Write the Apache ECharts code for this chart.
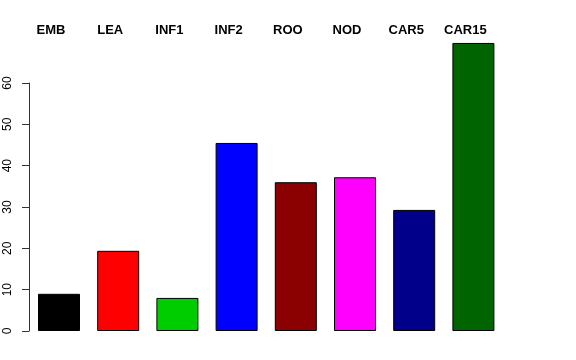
<!DOCTYPE html>
<html><head><meta charset="utf-8">
<script src="https://cdn.jsdelivr.net/npm/echarts@6/dist/echarts.min.js"></script>
<style>html,body{margin:0;padding:0;background:#fff}#c{width:576px;height:360px}</style>
</head><body><div id="c"></div>
<script>
const categories = ['EMB','LEA','INF1','INF2','ROO','NOD','CAR5','CAR15'];
const values = [9.0, 19.4, 8.0, 45.5, 36.0, 37.2, 29.3, 69.7];
const colors = ['#000000','#FF0000','#00CD00','#0000FF','#8B0000','#FF00FF','#00008B','#006400'];
const yTicks = [0,10,20,30,40,50,60];

const chart = echarts.init(document.getElementById('c'), null, {renderer:'canvas'});
const font = 'Liberation Sans, Arial, Helvetica, sans-serif';
chart.setOption({
  animation:false,
  backgroundColor:'#fff',
  grid:[
    {left:29.4, width:473.6, top:41.7, height:289.3},
    {left:29, width:10, top:83, height:248}
  ],
  xAxis:[
    {type:'category', gridIndex:0, data:categories, position:'top',
     axisLine:{show:false}, axisTick:{show:false},
     axisLabel:{fontFamily:font, fontWeight:'bold', fontSize:13, color:'#000', margin:5, padding:[0,16,0,0], interval:0}},
    {type:'value', gridIndex:1, show:false}
  ],
  yAxis:[
    {type:'value', gridIndex:0, min:0, max:70, show:false},
    {type:'value', gridIndex:1, min:0, max:60, interval:10,
     axisLine:{show:true, lineStyle:{color:'#333', width:1}},
     axisTick:{show:true, length:7, lineStyle:{color:'#333'}},
     splitLine:{show:false},
     axisLabel:{rotate:90, fontFamily:font, fontSize:12, color:'#000', margin:15,
       formatter:v=>yTicks.includes(v)?String(v):''}}
  ],
  series:[{
    type:'bar', xAxisIndex:0, yAxisIndex:0, barWidth:42,
    data: values.map((v,i)=>({value:v, itemStyle:{color:colors[i]}})),
    itemStyle:{borderColor:'#000', borderWidth:1}
  }]
});
</script></body></html>
